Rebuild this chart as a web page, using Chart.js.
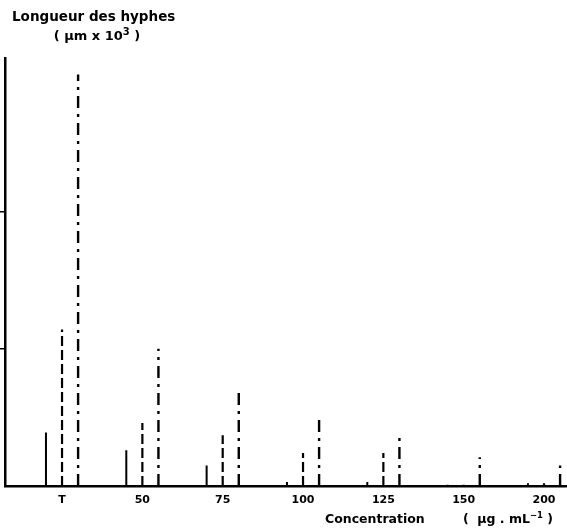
<!DOCTYPE html>
<html>
<head>
<meta charset="utf-8">
<script src="https://cdn.jsdelivr.net/npm/chart.js@4.4.1/dist/chart.umd.min.js"></script>
<style>
  html, body { margin: 0; padding: 0; background: #fff; }
  #wrap { width: 567px; height: 530px; }
</style>
</head>
<body>
<div id="wrap"><canvas id="c" width="567" height="530"></canvas></div>
<script>
// ---- data (units: one y tick step = 10) ----
const categories = ['T', '50', '75', '100', '125', '150', '200'];
const solidValues   = [3.9, 2.6, 1.5, 0.3, 0.3, 0.1, 0.2];
const dashedValues  = [11.4, 4.6, 3.7, 2.4, 2.4, 0.1, 0.2];
const dashDotValues = [30.0, 10.0, 7.1, 5.0, 3.7, 2.1, 1.5];
const yTickValues = [10, 20];

const yTitleLine1 = 'Longueur des hyphes';
// second line pieces: [text, superscript?]
const yTitleLine2 = [['( µm x 10', false], ['3', true], [' )', false]];
const xTitleMain = 'Concentration';
const xTitleUnit = [['(  µg . mL', false], ['−1', true], [' )', false]];

// build vertical stroke segments (baseline -> value), separated by gaps
function strokes(values, offset) {
  const pts = [];
  values.forEach((v, i) => {
    pts.push({ x: i + offset, y: 0 });
    pts.push({ x: i + offset, y: v });
    pts.push({ x: i + offset, y: null });
  });
  return pts;
}

const FONT = '"DejaVu Sans", "Liberation Sans", sans-serif';

function drawPieces(ctx, pieces, x, y, size, supSize, rise, align) {
  const widths = pieces.map(([t, sup]) => {
    ctx.font = 'bold ' + (sup ? supSize : size) + 'px ' + FONT;
    return ctx.measureText(t).width;
  });
  const total = widths.reduce((a, b) => a + b, 0);
  let cx = align === 'center' ? x - total / 2 : (align === 'right' ? x - total : x);
  ctx.textAlign = 'left';
  pieces.forEach(([t, sup], k) => {
    ctx.font = 'bold ' + (sup ? supSize : size) + 'px ' + FONT;
    ctx.fillText(t, cx, sup ? y - rise : y);
    cx += widths[k];
  });
}

const textPlugin = {
  id: 'texts',
  afterDraw(chart) {
    const ctx = chart.ctx;
    ctx.save();
    ctx.fillStyle = '#000';
    ctx.textBaseline = 'alphabetic';
    ctx.font = 'bold 13.5px ' + FONT;
    ctx.textAlign = 'left';
    ctx.fillText(yTitleLine1, 12, 21);
    drawPieces(ctx, yTitleLine2, 97, 40, 13, 10, 5, 'center');
    ctx.font = 'bold 12.5px ' + FONT;
    ctx.textAlign = 'left';
    ctx.fillText(xTitleMain, 325, 523);
    drawPieces(ctx, xTitleUnit, 553, 523, 12.5, 8.5, 5, 'right');
    ctx.restore();
  }
};

const common = {
  type: 'line',
  borderColor: '#000',
  pointRadius: 0,
  pointHoverRadius: 0,
  spanGaps: false,
  borderCapStyle: 'butt',
  tension: 0
};

new Chart(document.getElementById('c'), {
  type: 'line',
  data: {
    datasets: [
      Object.assign({}, common, { label: 'solid', data: strokes(solidValues, -0.2), borderWidth: 2 }),
      Object.assign({}, common, { label: 'dashed', data: strokes(dashedValues, 0), borderWidth: 2.2, borderDash: [10, 4] }),
      Object.assign({}, common, { label: 'dashdot', data: strokes(dashDotValues, 0.2), borderWidth: 2.4, borderDash: [12, 6, 3, 6] })
    ]
  },
  options: {
    responsive: false,
    animation: false,
    devicePixelRatio: 1,
    layout: { padding: { top: 58, left: 0, right: 0, bottom: 0 } },
    plugins: { legend: { display: false }, tooltip: { enabled: false }, title: { display: false } },
    scales: {
      x: {
        type: 'linear',
        min: -0.71,
        max: 6.286,
        afterBuildTicks(scale) { scale.ticks = categories.map((c, i) => ({ value: i })); },
        afterFit(scale) { scale.height = 44; },
        ticks: {
          autoSkip: false,
          maxRotation: 0,
          padding: 8,
          color: '#000',
          font: { family: FONT, size: 11, weight: 'bold' },
          callback: (v) => categories[v]
        },
        grid: { drawOnChartArea: false, drawTicks: false },
        border: { display: true, color: '#000', width: 2.5 }
      },
      y: {
        type: 'linear',
        min: 0,
        max: 31.2,
        afterBuildTicks(scale) { scale.ticks = yTickValues.map(v => ({ value: v })); },
        afterFit(scale) { scale.width = 5; },
        ticks: { display: false },
        grid: { drawOnChartArea: false, drawTicks: true, tickLength: 5, color: '#000', lineWidth: 1.5 },
        border: { display: true, color: '#000', width: 2.5 }
      }
    }
  },
  plugins: [textPlugin]
});
</script>
</body>
</html>
